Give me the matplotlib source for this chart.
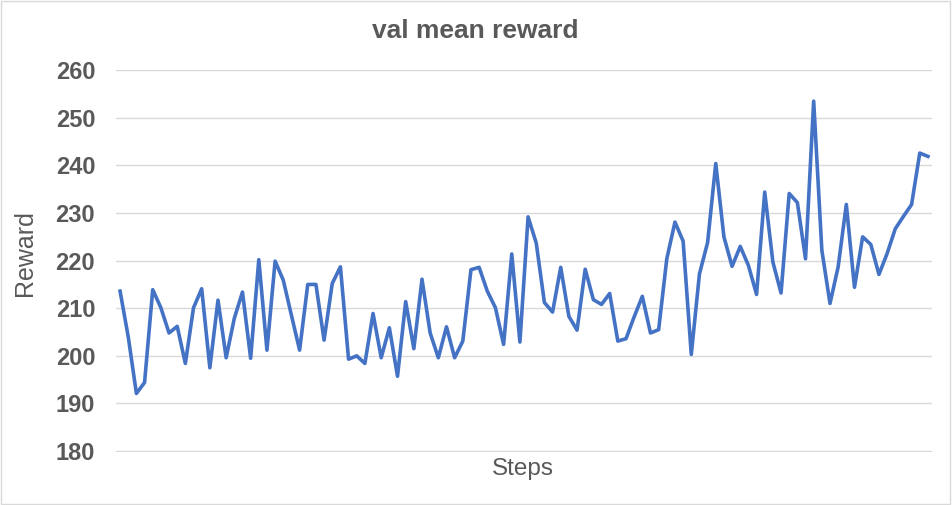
import matplotlib.pyplot as plt
from matplotlib.patches import Rectangle

plt.rcParams['font.family'] = ['Liberation Sans', 'DejaVu Sans']

# val mean reward per validation step
reward = [
    213.6, 204.0, 192.1, 194.4, 213.9, 210.1, 204.8, 206.2, 198.4, 210.1,
    214.1, 197.5, 211.7, 199.6, 207.9, 213.4, 199.5, 220.2, 201.2, 219.9,
    215.9, 208.5, 201.2, 215.0, 215.0, 203.3, 215.2, 218.7, 199.3, 200.0,
    198.4, 208.9, 199.6, 205.9, 195.7, 211.4, 201.5, 216.1, 204.8, 199.6,
    206.1, 199.6, 203.1, 218.1, 218.6, 213.6, 210.1, 202.4, 221.4, 202.9,
    229.2, 223.7, 211.2, 209.2, 218.6, 208.3, 205.4, 218.2, 211.8, 210.8,
    213.1, 203.1, 203.6, 208.2, 212.5, 204.8, 205.5, 220.4, 228.1, 224.1,
    200.3, 217.2, 223.8, 240.4, 225.0, 218.8, 223.0, 219.0, 212.9, 234.4,
    219.7, 213.2, 234.1, 232.2, 220.4, 253.5, 222.2, 211.0, 218.7, 231.8,
    214.4, 225.0, 223.4, 217.1, 221.5, 226.7, 229.3, 231.8, 242.6, 241.9,
]
steps = list(range(1, len(reward) + 1))
yticks = [180, 190, 200, 210, 220, 230, 240, 250, 260]

grey = '#595959'

fig = plt.figure(figsize=(9.52, 5.05), dpi=100)
ax = fig.add_axes([116 / 952, 1 - 452 / 505, 816 / 952, 382 / 505])

ax.plot(steps, reward, color='#4472C4', linewidth=2.6, solid_joinstyle='round')

ax.set_xlim(0.5, len(reward) + 0.5)
ax.set_ylim(179.8, 260.05)
ax.set_yticks(yticks)
ax.set_xticks([])
ax.grid(axis='y', color='#d9d9d9', linewidth=1.0)
ax.set_axisbelow(True)
for s in ax.spines.values():
    s.set_visible(False)
ax.tick_params(axis='y', length=0, pad=15, labelsize=17, labelcolor=grey)
for t in ax.get_yticklabels():
    t.set_fontweight('bold')

fig.text(475 / 952, 1 - 31 / 505, 'val mean reward', ha='center', va='center',
         fontsize=19, fontweight='bold', color=grey)
fig.text(25 / 952, 1 - 253 / 505, 'Reward', ha='center', va='center',
         rotation=90, fontsize=18, color=grey)
fig.text(523 / 952, 1 - 469 / 505, 'Steps', ha='center', va='center',
         fontsize=17.5, color=grey)

# light border around the chart
fig.patches.append(Rectangle((0.001, 0.002), 0.997, 0.996, transform=fig.transFigure,
                             fill=False, edgecolor='#d9d9d9', linewidth=1.0))

fig.savefig('out.png', dpi=100)
